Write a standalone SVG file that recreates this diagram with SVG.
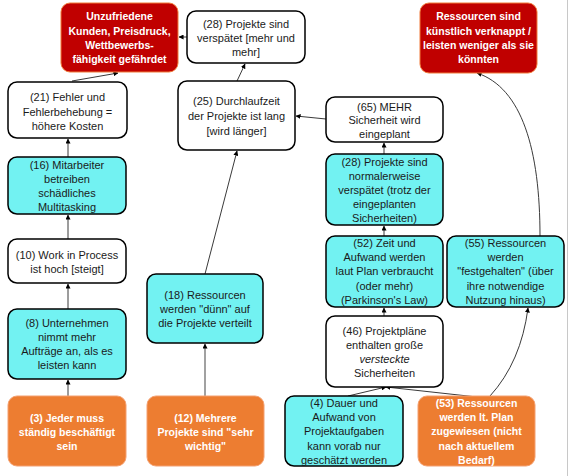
<svg xmlns="http://www.w3.org/2000/svg" width="570" height="476" viewBox="0 0 570 476">
<style>
text{font-family:"Liberation Sans",Arial,sans-serif;font-size:11px;fill:#1a1a1a;text-anchor:middle}
.b text{font-weight:bold;font-size:10.5px;fill:#fff}
.w rect{fill:#fff;stroke:#000;stroke-width:1.5}
.c rect{fill:#72F2F2;stroke:#000;stroke-width:1.5}
.r rect{fill:#C00000;stroke:#F07A3A;stroke-width:1}
.o rect{fill:#ED7D31;stroke:#F4A070;stroke-width:1}
.cn path{fill:none;stroke:#3a3a3a;stroke-width:1;marker-end:url(#ah)}
</style>
<defs>
<marker id="ah" viewBox="0 0 6 6" refX="5.5" refY="3" markerWidth="5" markerHeight="5" markerUnits="userSpaceOnUse" orient="auto">
<path d="M0,0 L6,3 L0,6 z" fill="#000"/>
</marker>
</defs>
<rect x="0" y="0" width="570" height="476" fill="#fff"/>
<line x1="567.5" y1="0" x2="567.5" y2="476" stroke="#c8c8c8" stroke-width="1"/>

<g id="connectors" class="cn">
<path d="M187,37 L179,37"/>
<path d="M72,81 L118,73"/>
<path d="M237,81 L245,64"/>
<path d="M326,119 L296,116"/>
<path d="M68,157 L68,139"/>
<path d="M68,239 L68,215"/>
<path d="M68,309 L68,284"/>
<path d="M68,396 L68,380"/>
<path d="M205,396 L205,344" style="stroke:#8a8a8a;stroke-width:1.6"/>
<path d="M205,274 L237,151"/>
<path d="M384,154 L384,143"/>
<path d="M384,236 L384,226"/>
<path d="M384,316 L384,308"/>
<path d="M348,396 L386,387"/>
<path d="M477,397 L386,387"/>
<path d="M490,396 Q521,362 528,308"/>
<path d="M540,236 C540,150 522,88 477,73"/>
</g>

<g id="n_unzufrieden" class="r b">
<rect x="61" y="3" width="117" height="69" rx="9"/>
<text x="119.5" y="20">Unzufriedene</text>
<text x="119.5" y="35">Kunden, Preisdruck,</text>
<text x="119.5" y="49">Wettbewerbs-</text>
<text x="119.5" y="63">fähigkeit gefährdet</text>
</g>
<g id="n28a" class="w">
<rect x="187" y="11" width="118" height="52" rx="9"/>
<text x="246" y="28">(28) Projekte sind</text>
<text x="246" y="42">verspätet [mehr und</text>
<text x="246" y="56">mehr]</text>
</g>
<g id="n_ressourcen" class="r b">
<rect x="420" y="3" width="117" height="70" rx="9"/>
<text x="478.5" y="20">Ressourcen sind</text>
<text x="478.5" y="35">künstlich verknappt /</text>
<text x="478.5" y="49">leisten weniger als sie</text>
<text x="478.5" y="63">könnten</text>
</g>
<g id="n21" class="w">
<rect x="8" y="82" width="119" height="56" rx="9"/>
<text x="67.5" y="101">(21) Fehler und</text>
<text x="67.5" y="116">Fehlerbehebung =</text>
<text x="67.5" y="130">höhere Kosten</text>
</g>
<g id="n25" class="w">
<rect x="178" y="81" width="117" height="69" rx="9"/>
<text x="236.5" y="105">(25) Durchlaufzeit</text>
<text x="236.5" y="120">der Projekte ist lang</text>
<text x="236.5" y="135">[wird länger]</text>
</g>
<g id="n65" class="w">
<rect x="326" y="97" width="117" height="45" rx="9"/>
<text x="384.5" y="111">(65) MEHR</text>
<text x="384.5" y="124">Sicherheit wird</text>
<text x="384.5" y="138">eingeplant</text>
</g>
<g id="n16" class="c">
<rect x="8" y="157" width="118" height="57" rx="9"/>
<text x="67" y="169">(16) Mitarbeiter</text>
<text x="67" y="183">betreiben</text>
<text x="67" y="197">schädliches</text>
<text x="67" y="211">Multitasking</text>
</g>
<g id="n28b" class="c">
<rect x="326" y="154" width="117" height="71" rx="9"/>
<text x="384.5" y="166">(28) Projekte sind</text>
<text x="384.5" y="180">normalerweise</text>
<text x="384.5" y="194">verspätet (trotz der</text>
<text x="384.5" y="208">eingeplanten</text>
<text x="384.5" y="222">Sicherheiten)</text>
</g>
<g id="n10" class="w">
<rect x="8" y="239" width="118" height="44" rx="9"/>
<text x="67" y="259">(10) Work in Process</text>
<text x="67" y="273">ist hoch [steigt]</text>
</g>
<g id="n52" class="c">
<rect x="326" y="236" width="117" height="71" rx="9"/>
<text x="384.5" y="247">(52) Zeit und</text>
<text x="384.5" y="261">Aufwand werden</text>
<text x="384.5" y="275">laut Plan verbraucht</text>
<text x="384.5" y="290">(oder mehr)</text>
<text x="384.5" y="304">(Parkinson's Law)</text>
</g>
<g id="n55" class="c">
<rect x="447" y="236" width="117" height="71" rx="9"/>
<text x="505.5" y="247">(55) Ressourcen</text>
<text x="505.5" y="261">werden</text>
<text x="505.5" y="275">"festgehalten" (über</text>
<text x="505.5" y="290">ihre notwendige</text>
<text x="505.5" y="304">Nutzung hinaus)</text>
</g>
<g id="n18" class="c">
<rect x="147" y="274" width="116" height="69" rx="9"/>
<text x="205" y="299">(18) Ressourcen</text>
<text x="205" y="313">werden "dünn" auf</text>
<text x="205" y="327">die Projekte verteilt</text>
</g>
<g id="n8" class="c">
<rect x="8" y="309" width="118" height="70" rx="9"/>
<text x="67" y="327">(8) Unternehmen</text>
<text x="67" y="341">nimmt mehr</text>
<text x="67" y="355">Aufträge an, als es</text>
<text x="67" y="369">leisten kann</text>
</g>
<g id="n46" class="w">
<rect x="326" y="316" width="117" height="71" rx="9"/>
<text x="384.5" y="335">(46) Projektpläne</text>
<text x="384.5" y="349">enthalten große</text>
<text x="384.5" y="363" font-style="italic">versteckte</text>
<text x="384.5" y="377">Sicherheiten</text>
</g>
<g id="n3" class="o b">
<rect x="8" y="396" width="118" height="70" rx="9"/>
<text x="67" y="422">(3) Jeder muss</text>
<text x="67" y="436">ständig beschäftigt</text>
<text x="67" y="450">sein</text>
</g>
<g id="n12" class="o b">
<rect x="147" y="396" width="117" height="70" rx="9"/>
<text x="205.5" y="422">(12) Mehrere</text>
<text x="205.5" y="436">Projekte sind "sehr</text>
<text x="205.5" y="450">wichtig"</text>
</g>
<g id="n4" class="c">
<rect x="285" y="396" width="118" height="70" rx="9"/>
<text x="344" y="407">(4) Dauer und</text>
<text x="344" y="421">Aufwand von</text>
<text x="344" y="435">Projektaufgaben</text>
<text x="344" y="450">kann vorab nur</text>
<text x="344" y="464">geschätzt werden</text>
</g>
<g id="n53" class="o b">
<rect x="418" y="396" width="117" height="70" rx="9"/>
<text x="476.5" y="407">(53) Ressourcen</text>
<text x="476.5" y="421">werden lt. Plan</text>
<text x="476.5" y="435">zugewiesen (nicht</text>
<text x="476.5" y="450">nach aktuellem</text>
<text x="476.5" y="464">Bedarf)</text>
</g>
</svg>
